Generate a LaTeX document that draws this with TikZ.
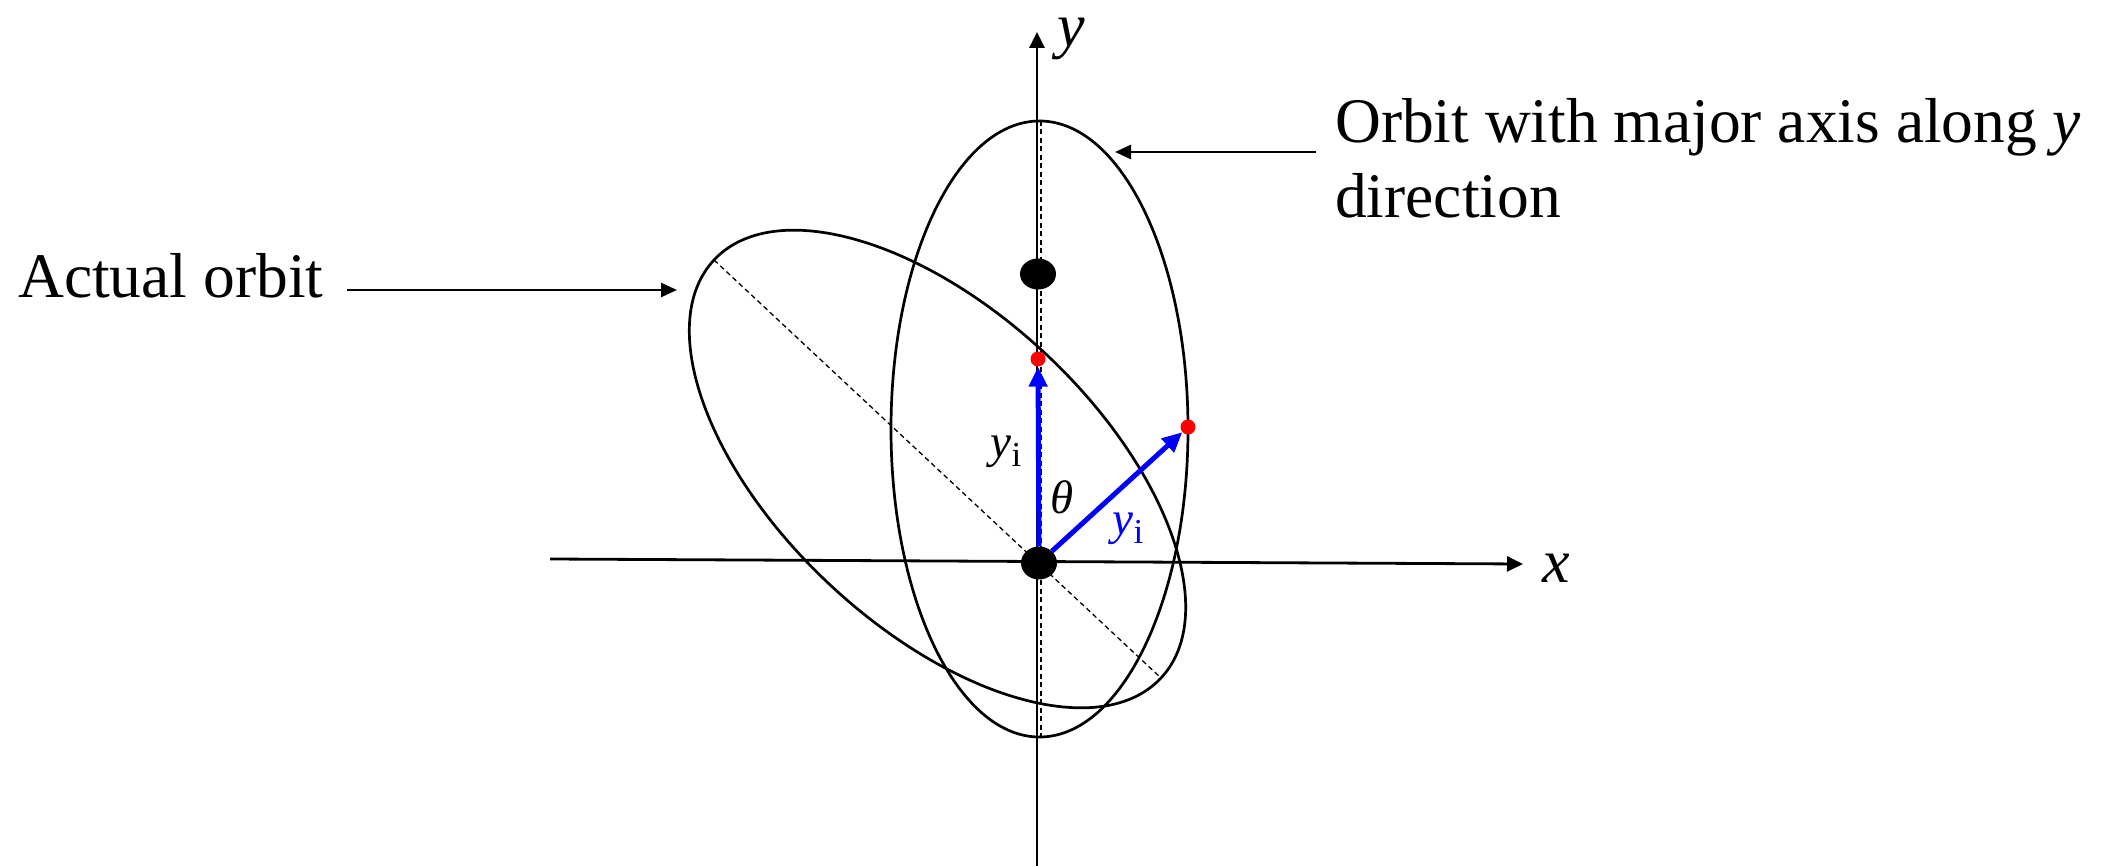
\documentclass[tikz,border=0pt]{standalone}
\usepackage{fontspec}
\setmainfont{Liberation Serif}
\usetikzlibrary{arrows.meta,shapes.geometric}
\begin{document}
\begin{tikzpicture}[x=1pt,y=1pt,
  axisline/.style={line width=2.8pt,-{Triangle[length=16pt,width=15pt]}},
  orbit/.style={line width=2.7pt},
  guide/.style={line width=1.3pt,dash pattern=on 5pt off 3.5pt},
  pointer/.style={line width=2.6pt,-{Triangle[length=16pt,width=14pt]}},
  vec/.style={draw=blue,line width=5pt,-{Triangle[length=20pt,width=18pt]}},
  body/.style={ellipse,fill=black,inner sep=0pt},
  reddot/.style={circle,fill=red,inner sep=0pt,minimum size=15pt},
  lbl/.style={inner sep=0pt,font=\fontsize{63.5}{76}\selectfont},
  axlbl/.style={inner sep=0pt,font=\fontsize{62}{62}\selectfont\itshape},
  sym/.style={inner sep=0pt,font=\fontsize{47}{56}\selectfont}
]
\useasboundingbox (0,0) rectangle (2113,-866);

% orbits
\draw[orbit] (1039.5,-429) ellipse [x radius=148.5pt, y radius=308pt];
\draw[orbit, rotate around={-43.1:(937.5,-469)}] (937.5,-469) ellipse [x radius=306pt, y radius=158pt];

% dashed major axes
\coordinate (ta) at (714,-260);
\coordinate (tb) at (1161,-678);
\draw[guide] (ta) -- (tb);
\coordinate (va) at (1041,-121);
\coordinate (vb) at (1041,-737);
\draw[guide] (va) -- (vb);

% coordinate axes
\coordinate (ybot) at (1037,-866);
\coordinate (ytop) at (1037,-32);
\draw[axisline] (ybot) -- (ytop);
\coordinate (xl) at (550,-559);
\coordinate (xr) at (1523,-564);
\draw[axisline] (xl) -- (xr);
\node[axlbl] (ylab) at (1071,-39) {y};
\node[axlbl] (xlab) at (1556,-568) {x};

% labels and pointers
\node[lbl,anchor=base west] (t1) at (1335,-143) {Orbit with major axis along \textit{y}};
\node[lbl,anchor=base west] (t2) at (1335,-218) {direction};
\node[lbl,anchor=base west] (t3) at (18,-298) {Actual orbit};
\coordinate (p1s) at (1316,-152);
\coordinate (p1e) at (1115,-152);
\draw[pointer] (p1s) -- (p1e);
\coordinate (p2s) at (347,-290);
\coordinate (p2e) at (677,-290);
\draw[pointer] (p2s) -- (p2e);

% bodies
\node[body,minimum width=36pt,minimum height=31pt] (F) at (1038,-274) {};
\node[reddot] (P1) at (1038,-359) {};
\node[reddot] (P2) at (1188,-427) {};
\node[body,minimum width=36pt,minimum height=33pt] (O) at (1039,-563) {};

% vectors
\draw[vec] (O) -- (P1);
\draw[vec] (O) -- (P2);

% vector labels
\node[sym] (yi1) at (1006,-452) {\textit{y}\raisebox{-9pt}{\fontsize{35}{35}\selectfont i}};
\node[sym,text=blue] (yi2) at (1128,-529) {\textit{y}\raisebox{-9pt}{\fontsize{35}{35}\selectfont i}};
\node[sym] (th) at (1062,-497) {\textit{θ}};
\end{tikzpicture}
\end{document}
